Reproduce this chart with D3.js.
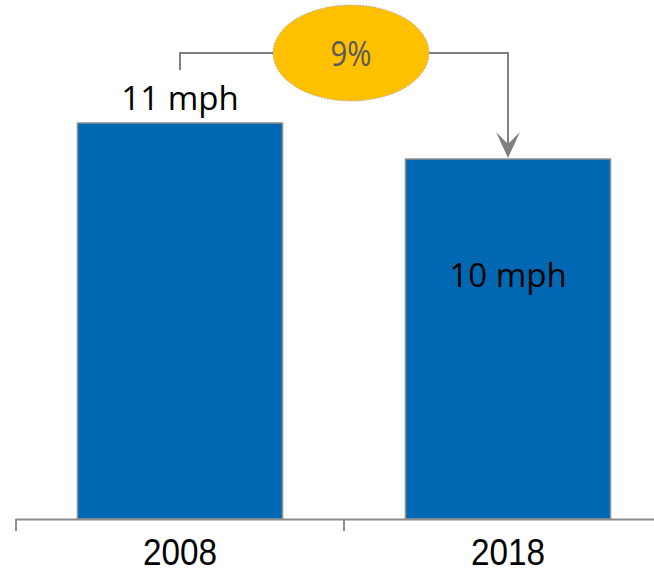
<!DOCTYPE html>
<html>
<head>
<meta charset="utf-8">
<script src="https://d3js.org/d3.v7.min.js"></script>
<style>
    body { margin: 0; background: #fff; }
    svg { display: block; font-family: "Open Sans", sans-serif; }
</style>
</head>
<body>
<div id="chart"></div>
<script>
//data
const years = ['2008', '2018'];
const speeds = [11, 10];
const speedLabels = ['11 mph', '10 mph'];
const changeLabel = '9%';

const width = 654;
const height = 575;
const baseline = 519;

const svg = d3.select('#chart')
    .append('svg')
    .attr('width', width)
    .attr('height', height);

//band scale, each category gets one step starting at the first tick
const x = d3.scaleBand()
    .domain(years)
    .range([16, 672])
    .padding(0);

const barWidth = x.bandwidth() * 0.625;

const y = d3.scaleLinear()
    .domain([0, 11])
    .range([baseline, 123]);

const data = years.map((d, i) => ({ year: d, value: speeds[i], label: speedLabels[i] }));

//bars
svg.selectAll('.bar')
    .data(data)
    .enter().append('rect')
    .attr('class', 'bar')
    .attr('x', d => x(d.year) + (x.bandwidth() - barWidth) / 2)
    .attr('width', barWidth)
    .attr('y', d => y(d.value))
    .attr('height', d => baseline - y(d.value))
    .attr('fill', '#0068b3')
    .attr('stroke', '#8c8c8c')
    .attr('stroke-width', 1.5);

//x axis line and ticks at the band edges
svg.append('line')
    .attr('x1', x.range()[0])
    .attr('x2', width)
    .attr('y1', baseline + 0.5)
    .attr('y2', baseline + 0.5)
    .attr('stroke', '#8c8c8c')
    .attr('stroke-width', 2);

svg.selectAll('.tick-mark')
    .data(years)
    .enter().append('line')
    .attr('class', 'tick-mark')
    .attr('x1', d => x(d))
    .attr('x2', d => x(d))
    .attr('y1', baseline)
    .attr('y2', baseline + 12)
    .attr('stroke', '#8c8c8c')
    .attr('stroke-width', 2);

//year labels, squeezed a bit to look like the narrow original font
const axis = svg.append('g')
    .attr('transform', 'translate(0,' + baseline + ')')
    .call(d3.axisBottom(x).tickSize(0).tickPadding(20));
axis.select('.domain').remove();
axis.selectAll('text')
    .attr('font-family', '"Liberation Sans", Arial, sans-serif')
    .attr('font-size', 37)
    .attr('fill', '#000')
    .attr('textLength', 74)
    .attr('lengthAdjust', 'spacingAndGlyphs');

//value labels: first above the bar, second inside
svg.selectAll('.value')
    .data(data)
    .enter().append('text')
    .attr('class', 'value')
    .attr('x', d => x(d.year) + x.bandwidth() / 2)
    .attr('y', (d, i) => i === 0 ? y(d.value) - 13 : y(d.value) + 128)
    .attr('text-anchor', 'middle')
    .attr('font-size', 33)
    .attr('fill', '#000')
    .text(d => d.label);

//bracket from first bar to second bar
const cx0 = x(years[0]) + x.bandwidth() / 2;
const cx1 = x(years[1]) + x.bandwidth() / 2;
const bracketY = 53;
const tipY = y(speeds[1]) - 1;

svg.append('path')
    .attr('d', 'M' + cx0 + ',70 V' + bracketY + ' H' + cx1 + ' V' + (tipY - 10))
    .attr('fill', 'none')
    .attr('stroke', '#7f7f7f')
    .attr('stroke-width', 2);

//arrow head
svg.append('path')
    .attr('d', 'M' + cx1 + ',' + tipY +
        ' L' + (cx1 - 12) + ',' + (tipY - 26) +
        ' L' + cx1 + ',' + (tipY - 14) +
        ' L' + (cx1 + 12) + ',' + (tipY - 26) + ' Z')
    .attr('fill', '#7f7f7f');

//change bubble
const bubbleX = (cx0 + cx1) / 2 + 7;
svg.append('ellipse')
    .attr('cx', bubbleX)
    .attr('cy', bracketY)
    .attr('rx', 78)
    .attr('ry', 48)
    .attr('fill', '#ffc000')
    .attr('stroke', '#a6a6a6')
    .attr('stroke-width', 1)
    .attr('stroke-dasharray', '1.5,1.5');

svg.append('text')
    .attr('x', bubbleX)
    .attr('y', 66)
    .attr('text-anchor', 'middle')
    .attr('font-size', 34)
    .attr('fill', '#595959')
    .attr('textLength', 41)
    .attr('lengthAdjust', 'spacingAndGlyphs')
    .text(changeLabel);
</script>
</body>
</html>
